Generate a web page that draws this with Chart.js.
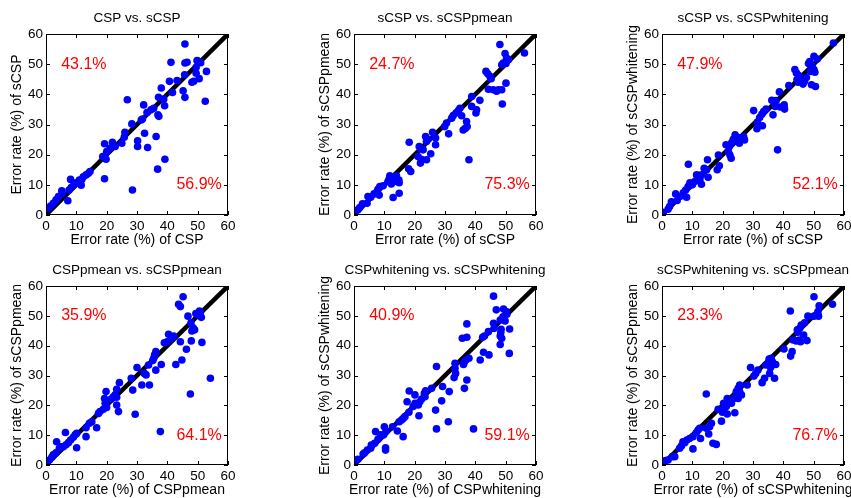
<!DOCTYPE html>
<html>
<head>
<meta charset="utf-8">
<script src="https://cdn.jsdelivr.net/npm/chart.js@4.4.1/dist/chart.umd.min.js"></script>
<style>
  html, body { margin: 0; padding: 0; background: #fff; overflow: hidden; }
  #fig { position: relative; width: 851px; height: 498px; overflow: hidden; }
  #fig canvas { position: absolute; }
</style>
</head>
<body>
<div id="fig"></div>
<script>
// panel texts
const titles = ['CSP vs. sCSP', 'sCSP vs. sCSPpmean', 'sCSP vs. sCSPwhitening',
  'CSPpmean vs. sCSPpmean', 'CSPwhitening vs. sCSPwhitening', 'sCSPwhitening vs. sCSPpmean'];
const xLabels = ['CSP', 'sCSP', 'sCSP', 'CSPpmean', 'CSPwhitening', 'sCSPwhitening'];
const yLabels = ['sCSP', 'sCSPpmean', 'sCSPwhitening', 'sCSPpmean', 'sCSPwhitening', 'sCSPpmean'];
const upperPct = ['43.1%', '24.7%', '47.9%', '35.9%', '40.9%', '23.3%'];
const lowerPct = ['56.9%', '75.3%', '52.1%', '64.1%', '59.1%', '76.7%'];
const axisTicks = [0, 10, 20, 30, 40, 50, 60];
const diagonal = [0, 60];

// error rates (%) per subject: [x method, y method]
const cspVsScsp = [[45.8,56.7],[41.2,50.6],[45.8,50.4],[46.5,50.6],[49.8,51.2],[50,51],[51,50.5],[49.5,49],[49.5,47],[52.9,47.6],
  [50.5,45.2],[40.7,44.3],[43.2,44.6],[45.7,46.5],[48.7,44.3],[48.1,44],[45.2,41.2],[45.8,39],[41.7,40.6],[38,42.1],
  [52.5,37.7],[37.1,39],[38.8,38.4],[39.1,36.2],[26.8,38.2],[32.2,36.5],[35.5,35.4],[34.6,34.9],[33.3,34],[36.9,33.2],
  [37.2,32.7],[31.8,31.8],[31.4,31.5],[28.3,30.2],[26,27.4],[25.8,25.8],[25,23.8],[32.5,27.1],[30.2,24.6],[30.2,22.7],
  [33.5,22.4],[36.3,26],[21.9,24.1],[22.8,22.7],[21.1,22.1],[20,21],[19.3,23.6],[18.7,19.4],[19.8,18.5],[39.2,18.5],
  [36.8,15.2],[19.3,12],[28.5,8.3],[14.5,14.4],[14,13.8],[13.2,13.3],[12.3,12.7],[11.8,11.8],[11,11.6],[11.6,9.9],
  [9.9,10.7],[9.2,10],[8.3,9.1],[8.1,11.8],[7.6,8.3],[7.2,4.7],[5.2,8],[5.3,7.2],[4.1,6.1],[3.3,5],[2.4,3.9],[1.5,3],[0.8,2.2]];
const scspVsPmean = [[48.1,56.5],[56.2,53.7],[49.8,53.5],[50.3,52],[50.9,51.5],[49.2,50.4],[48.7,49.8],[50.1,50.2],[50.1,43.7],[48.9,36.8],
  [43.5,47.6],[44.1,46.8],[44.8,46],[45.2,45.2],[44.3,41.7],[45.9,41.5],[47.6,41.5],[48.7,41.5],[47,41],[38.8,39.3],
  [41.5,38],[38.8,36],[40.4,34.9],[40.2,33.8],[34.9,35.4],[34.4,34.6],[33.6,33.8],[32.7,33],[32.2,32.1],[30.5,30.5],
  [29.9,29.3],[35.5,32.9],[37.1,31],[37.3,29.3],[36,28.2],[36.7,28.7],[31.2,26.9],[37.9,18.3],[25.9,27.4],[26.9,25.5],
  [26.9,23.3],[23.6,26],[24.4,25.1],[23.9,24.4],[21.5,22.7],[22,22],[22.8,21.6],[18.2,24.1],[25.3,20.3],[21.1,19.4],
  [22.2,18.5],[21.9,17.2],[23.9,18.3],[18,15.3],[18.7,14.4],[11.8,13],[14,13],[13.4,12.2],[12.9,11.6],[11.6,12],
  [11.2,11.1],[14.8,11.6],[14.9,10.7],[12.3,10.3],[14,11.1],[12.9,5.8],[14.9,7.2],[9.6,9.7],[8.5,9.4],[7.9,8.5],
  [7.6,7.8],[8.3,6.6],[6.6,7],[4.6,6.1],[5.5,5.9],[4.3,3.9],[2.8,3.7],[1.9,2.5],[1.3,1.7]];
const scspVsWhitening = [[56.5,57],[50.1,52.6],[51.2,51.7],[48.7,50.9],[48.3,50.2],[49.5,49.3],[50.1,48.2],[50.4,47.3],[49,47.6],[43.8,48.2],
  [44.3,47.1],[45.1,46.2],[45.6,45.4],[46.2,44.9],[47,44.3],[44.5,44.9],[44.9,44],[47.6,45.6],[46.5,43.4],[49.3,43.2],
  [50.6,42.6],[41.8,42.9],[38.7,40.8],[36.2,38],[37.6,37.9],[37.3,36],[39,35.8],[40.3,36.5],[40.4,35.1],[36.6,33.2],
  [34.3,35.1],[33.5,34.3],[32.9,33.4],[30.2,34.6],[32.2,32.3],[31.5,30.8],[31.3,28.6],[33.1,29.6],[38.1,21.6],[24.1,26.6],
  [25,25.7],[26,25.5],[26.9,26],[27.2,24.9],[25.5,23.8],[23.5,25.1],[23,24],[21.1,23.3],[22.2,22.7],[21.9,21],
  [22.4,19.9],[22.8,18.8],[18.6,19.9],[18.9,16.3],[18.2,15],[15,18.3],[13.9,15.5],[14.7,15],[15.2,12.5],[8.7,16.8],
  [13,13.3],[11.4,13.3],[12.5,11.8],[13,10.2],[10.8,11.1],[10,10],[9.2,10.7],[8.6,9.4],[7.8,8.3],[7,7.4],
  [8.1,5.9],[5.9,6.1],[4.5,7],[5,4.8],[3.1,4.4],[2.5,2.8],[2,1.9],[0.3,0.9]];
const pmeanVsScspPmean = [[45.2,56.4],[43.7,53.9],[44.3,53.1],[46.8,49.9],[49.4,50.8],[50.6,51.6],[50.9,51.1],[50.1,50.3],[51.2,49.5],[47.8,47.7],
  [48.5,46],[49,45.3],[48.1,44.9],[40.4,43.8],[42.1,43.2],[41.5,42.5],[39.9,41.3],[39,41],[44.3,41.3],[47.9,41.6],
  [51.4,41.1],[46.3,38.8],[44.8,35.2],[42.8,33.7],[54.2,29.1],[47.6,23.8],[36.2,38],[35.8,36.9],[35.5,35.8],[35.2,35],
  [36.2,31.8],[38,33.7],[33.8,33.5],[30,32.7],[32.4,30.7],[33,30.2],[31.6,26.8],[34.1,26.8],[28.1,29.1],[28.6,25.1],
  [29.4,17],[37.7,11.2],[24.2,27.6],[23.3,25.4],[22.8,23.5],[23.3,22.7],[22.2,22.9],[23.3,20.1],[23.9,17.9],[21.5,22.1],
  [19.8,24.6],[19.3,22.3],[19.5,20.7],[20,19.3],[18.9,18.7],[17.8,17.9],[17.3,17.3],[16.7,12.5],[15.1,14.5],[14.3,14],
  [13.2,12.5],[13.2,9.5],[10.1,10.6],[9.6,10.1],[9,9.3],[8.1,8.4],[7.4,7.5],[6.6,6.8],[6.4,10.9],[10.1,5.8],
  [5.7,6.1],[4.4,5.6],[3.5,7.8],[3.3,4.1],[2.4,3.4],[1.9,2.6],[1.1,1.7],[0.4,1],[4.8,6.1]];
const whiteningVsScspWhitening = [[46,56.6],[46.9,52],[49.3,52.3],[50.2,51.4],[50.4,50.5],[49.1,49.7],[48.2,48.6],[49.8,48.3],[46,47.5],[46.2,45.8],
  [37.2,47.3],[51.3,45.6],[48.5,45.5],[48.4,44.4],[48.2,43.2],[48.7,42.5],[44.3,44.7],[43,43.2],[42.4,42.8],[35.7,42.5],
  [37.2,42.8],[48.2,40.4],[51.2,37.4],[42.7,37.8],[44.5,36.9],[41.6,35.2],[37.9,35.8],[36.9,35.2],[36.3,34.4],[36.1,33.7],
  [33.3,34.1],[37.2,28.5],[33.3,32.4],[33.5,30.7],[33,29.3],[27.2,33],[36.4,25.7],[31.4,24.6],[29.2,26.3],[28.9,21.5],
  [31.1,14.5],[27.2,12.1],[39.4,12.1],[26.9,18.4],[25.6,25.7],[23.6,24.9],[23.2,24],[23.4,22.9],[22.3,22.1],[21.7,21.2],
  [20.1,23.5],[21.2,20.1],[19.5,19.6],[20.1,20.7],[18.2,24.8],[17.5,21.2],[18.1,17.7],[21.4,16.5],[16.8,16.2],[16.2,15.6],
  [15.7,15.1],[14.9,14.5],[14.3,11.4],[16.2,9.5],[12.7,12.8],[10,12.8],[10.5,11.2],[9.8,10.1],[10.4,5.8],[10.4,5],
  [8.7,10.1],[7.9,8.6],[7.1,11.2],[6.8,7.3],[5.7,6.7],[5.5,5.6],[4.4,5],[3.5,4.1],[3,3.7],[0.8,1.7],[1.3,1.9]];
const scspWhiteningVsPmean = [[50.1,56.4],[56.2,53.9],[51.8,53.4],[42.3,51.6],[51.4,51.4],[50.9,50.3],[51.6,49.9],[50.1,49.9],[48.1,49.9],[47,47.7],
  [45.9,46.9],[45.4,45.8],[44.6,45.3],[44.8,44.5],[46.7,43.6],[43.2,41.9],[44.3,41.6],[45.2,41.9],[45.7,41.3],[47.8,41.7],
  [40.2,38.9],[42.9,38],[42.4,36.5],[35.3,35.5],[36,35.8],[36.4,34.6],[35,34.1],[34.2,33.5],[37.5,33.7],[35.8,32.7],
  [29.2,32.7],[31.6,31.8],[30.9,30.7],[30.3,29.8],[35.5,30.7],[33.8,29.1],[37.1,29.1],[33,27.6],[28.1,26.8],[25.6,26.8],
  [25.1,25.7],[25.6,24.6],[24.5,24.6],[26.2,23.5],[25.1,22.3],[23.7,22.3],[22.9,20.7],[21.5,22.3],[24,17.5],[14.6,23.8],
  [20.3,20.7],[21.2,19.6],[20.4,18.4],[21.5,17.1],[19.9,17.7],[18.5,18.7],[19.6,14.7],[16.3,14],[15.7,12.8],[14.6,12.3],
  [15.4,10.4],[16.8,7.3],[17.9,6.9],[12.4,12.3],[11.9,11.7],[11.3,10.8],[12.7,8.9],[10.2,9.5],[9.1,8.9],[8.2,8.4],
  [7.5,7.5],[6.9,7.8],[6.4,6.4],[5.8,5.6],[10.2,5.4],[4.2,2.8],[3.4,2.8],[2,1.7],[1.2,1.5]];

const panelData = [cspVsScsp, scspVsPmean, scspVsWhitening, pmeanVsScspPmean, whiteningVsScspWhitening, scspWhiteningVsPmean];

const FONT = '"Liberation Sans", Arial, Helvetica, sans-serif';
Chart.defaults.font.family = FONT;
Chart.defaults.color = '#000';

// frame, inward ticks, titles and the two percentages
const panelText = {
  id: 'panelText',
  afterDraw(chart, args, o) {
    const {ctx, chartArea: a, scales: {x, y}} = chart;
    const cx = (a.left + a.right) / 2, cy = (a.top + a.bottom) / 2;
    ctx.save();
    ctx.strokeStyle = '#000';
    ctx.lineWidth = 1;
    ctx.strokeRect(a.left + 0.5, a.top + 0.5, a.width - 1, a.height - 1);
    ctx.beginPath();
    axisTicks.forEach(v => {
      const px = Math.round(x.getPixelForValue(v)) + 0.5;
      const py = Math.round(y.getPixelForValue(v)) + 0.5;
      ctx.moveTo(px, a.bottom); ctx.lineTo(px, a.bottom - 4);
      ctx.moveTo(px, a.top); ctx.lineTo(px, a.top + 4);
      ctx.moveTo(a.left, py); ctx.lineTo(a.left + 4, py);
      ctx.moveTo(a.right, py); ctx.lineTo(a.right - 4, py);
    });
    ctx.stroke();

    ctx.fillStyle = '#000';
    ctx.textAlign = 'center';
    ctx.textBaseline = 'middle';
    ctx.font = '13.5px ' + FONT;
    ctx.fillText(o.title, cx, a.top - 16);
    ctx.font = '14px ' + FONT;
    ctx.fillText(o.xLabel, cx, a.bottom + 25.5);
    ctx.save();
    ctx.translate(a.left - 28.5, cy);
    ctx.rotate(-Math.PI / 2);
    ctx.fillText(o.yLabel, 0, 0);
    ctx.restore();

    ctx.fillStyle = '#ff0000';
    ctx.textAlign = 'left';
    ctx.font = '16px ' + FONT;
    ctx.fillText(o.upper, x.getPixelForValue(5), y.getPixelForValue(50));
    ctx.fillText(o.lower, x.getPixelForValue(43), y.getPixelForValue(10));
    ctx.restore();
  }
};

const plotLefts = [46, 354, 662];
const plotTops = [34, 286];
const plotHeights = [181, 179];
const fig = document.getElementById('fig');

panelData.forEach((pts, i) => {
  const row = Math.floor(i / 3), col = i % 3;
  const canvas = document.createElement('canvas');
  const w = 46 + 182 + 12;
  const h = row === 0 ? 249 : 246;
  canvas.width = w;
  canvas.height = h;
  canvas.style.left = (plotLefts[col] - 46) + 'px';
  canvas.style.top = (plotTops[row] - 34) + 'px';
  fig.appendChild(canvas);
  const xh = h - 34 - plotHeights[row];

  new Chart(canvas, {
    type: 'scatter',
    data: {
      datasets: [
        {
          data: pts.map(p => ({x: p[0], y: p[1]})),
          backgroundColor: '#0000ff',
          borderWidth: 0,
          pointRadius: 3.8,
          order: 0
        },
        {
          type: 'line',
          data: diagonal.map(v => ({x: v, y: v})),
          borderColor: '#000',
          borderWidth: 4.5,
          pointRadius: 0,
          order: 1
        }
      ]
    },
    options: {
      responsive: false,
      animation: false,
      devicePixelRatio: 1,
      layout: {padding: {top: 34, right: 12, bottom: 0, left: 0}},
      plugins: {
        legend: {display: false},
        tooltip: {enabled: false},
        panelText: {
          title: titles[i],
          xLabel: 'Error rate (%) of ' + xLabels[i],
          yLabel: 'Error rate (%) of ' + yLabels[i],
          upper: upperPct[i],
          lower: lowerPct[i]
        }
      },
      scales: {
        x: {
          type: 'linear', min: 0, max: 60,
          ticks: {stepSize: 10, color: '#000', font: {size: 13.5}, padding: 3, maxRotation: 0},
          grid: {display: false, drawTicks: false},
          border: {display: false},
          afterFit(s) { s.height = xh; }
        },
        y: {
          type: 'linear', min: 0, max: 60,
          ticks: {stepSize: 10, color: '#000', font: {size: 13.5}, padding: 3},
          grid: {display: false, drawTicks: false},
          border: {display: false},
          afterFit(s) { s.width = 46; }
        }
      }
    },
    plugins: [panelText]
  });
});
</script>
</body>
</html>
